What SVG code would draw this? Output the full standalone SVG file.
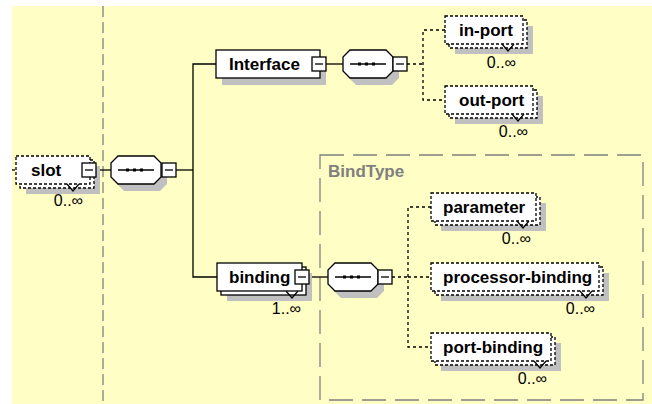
<svg xmlns="http://www.w3.org/2000/svg" width="652" height="404" viewBox="0 0 652 404">
  <style>
    .bg { fill: #FFFEC4; }
    .shadow { fill: #C0C0C0; }
    .box { fill: #FFFFFF; stroke: #000; stroke-width: 1.3; }
    .opt { stroke-dasharray: 3 2; }
    .btn { fill: #FFFFFF; stroke: #000; stroke-width: 1.3; }
    .mark { stroke: #000; stroke-width: 1.3; fill: none; }
    .wire { stroke: #000; stroke-width: 1.3; fill: none; }
    .dwire { stroke-dasharray: 3 3; }
    .vee { stroke: #000; stroke-width: 1.2; fill: none; }
    .name { font-family: "Liberation Sans", Arial, sans-serif; font-weight: bold; font-size: 17px; fill: #000; }
    .occ { font-family: "Liberation Sans", Arial, sans-serif; font-size: 16px; fill: #000; text-anchor: end; }
    .typename { font-family: "Liberation Sans", Arial, sans-serif; font-weight: bold; font-size: 17px; fill: #808080; }
    .guide { stroke: #808080; stroke-width: 1.3; fill: none; }
  </style>

  <defs>
    <!-- sequence compositor: octagon with a dotted bar -->
    <g id="seq-body">
      <polygon points="7,0 43,0 50,7 50,21 43,28 7,28 0,21 0,7"/>
    </g>
    <g id="seq-inner">
      <line x1="7" y1="14" x2="43" y2="14" class="mark"/>
      <rect x="15" y="12.5" width="3" height="3" fill="#000"/>
      <rect x="22" y="12.5" width="3" height="3" fill="#000"/>
      <rect x="29" y="12.5" width="3" height="3" fill="#000"/>
    </g>
    <g id="collapse">
      <rect x="0" y="0" width="14" height="14" class="btn"/>
      <line x1="3" y1="7" x2="11" y2="7" class="mark"/>
    </g>
  </defs>

  <!-- canvas -->
  <rect x="0" y="0" width="652" height="404" fill="#FFFFFF"/>
  <rect x="12" y="6" width="640" height="398" class="bg"/>

  <!-- root boundary and complex type frame -->
  <line x1="103" y1="6" x2="103" y2="404" class="guide" stroke-dasharray="11 5"/>
  <g id="bindtype-frame">
    <rect x="320" y="155" width="323" height="245" class="guide" stroke-dasharray="24 9"/>
    <text x="328" y="177" class="typename">BindType</text>
  </g>

  <!-- connectors -->
  <g id="connectors">
    <line x1="12" y1="170" x2="16" y2="170" class="wire dwire"/>
    <line x1="96" y1="170" x2="111" y2="170" class="wire"/>
    <line x1="176" y1="170" x2="193" y2="170" class="wire"/>
    <polyline points="216,64 193,64 193,277 217,277" class="wire"/>
    <line x1="326" y1="64" x2="343" y2="64" class="wire"/>
    <line x1="407" y1="64" x2="423" y2="64" class="wire dwire"/>
    <polyline points="445,30 423,30 423,100 445,100" class="wire dwire"/>
    <line x1="309" y1="277" x2="328" y2="277" class="wire"/>
    <line x1="392" y1="277" x2="408" y2="277" class="wire dwire"/>
    <polyline points="431,207 408,207 408,347 431,347" class="wire dwire"/>
    <line x1="408" y1="277" x2="431" y2="277" class="wire dwire"/>
  </g>

  <!-- slot (optional, repeating) -->
  <g id="slot">
    <rect x="26" y="166" width="74" height="28" class="shadow"/>
    <rect x="20" y="160" width="74" height="28" class="box opt"/>
    <rect x="16" y="156" width="74" height="28" class="box opt"/>
    <text x="31" y="176" class="name">slot</text>
    <use href="#collapse" x="82" y="163"/>
    <polyline points="67,184 73,191 79,184" class="vee"/>
    <text x="83" y="206" class="occ">0..∞</text>
  </g>

  <!-- slot sequence -->
  <g id="seq-slot">
    <use href="#seq-body" x="117" y="163" class="shadow"/>
    <use href="#seq-body" x="111" y="156" class="box"/>
    <use href="#seq-inner" x="111" y="156"/>
    <use href="#collapse" x="162" y="163"/>
  </g>

  <!-- Interface -->
  <g id="interface">
    <rect x="222" y="57" width="104" height="28" class="shadow"/>
    <rect x="216" y="50" width="104" height="28" class="box"/>
    <text x="229" y="70" class="name">Interface</text>
    <use href="#collapse" x="312" y="57"/>
  </g>

  <g id="seq-interface">
    <use href="#seq-body" x="349" y="57" class="shadow"/>
    <use href="#seq-body" x="343" y="50" class="box"/>
    <use href="#seq-inner" x="343" y="50"/>
    <use href="#collapse" x="393" y="57"/>
  </g>

  <g id="in-port">
    <rect x="455" y="26" width="78" height="28" class="shadow"/>
    <rect x="449" y="20" width="78" height="28" class="box opt"/>
    <rect x="445" y="16" width="78" height="28" class="box opt"/>
    <text x="459" y="36" class="name">in-port</text>
    <polyline points="502,44 508,51 514,44" class="vee"/>
    <text x="516" y="68" class="occ">0..∞</text>
  </g>

  <g id="out-port">
    <rect x="455" y="96" width="88" height="28" class="shadow"/>
    <rect x="449" y="90" width="88" height="28" class="box opt"/>
    <rect x="445" y="86" width="88" height="28" class="box opt"/>
    <text x="459" y="106" class="name">out-port</text>
    <polyline points="512,114 518,121 524,114" class="vee"/>
    <text x="528" y="137" class="occ">0..∞</text>
  </g>

  <!-- binding (required, repeating) -->
  <g id="binding">
    <rect x="227" y="273" width="85" height="28" class="shadow"/>
    <rect x="221" y="267" width="85" height="28" class="box"/>
    <rect x="217" y="263" width="85" height="28" class="box"/>
    <text x="229" y="283" class="name">binding</text>
    <use href="#collapse" x="295" y="270"/>
    <polyline points="286,291 292,298 298,291" class="vee"/>
    <text x="301" y="314" class="occ">1..∞</text>
  </g>

  <g id="seq-binding">
    <use href="#seq-body" x="334" y="270" class="shadow"/>
    <use href="#seq-body" x="328" y="263" class="box"/>
    <use href="#seq-inner" x="328" y="263"/>
    <use href="#collapse" x="378" y="270"/>
  </g>

  <g id="parameter">
    <rect x="441" y="203" width="105" height="28" class="shadow"/>
    <rect x="435" y="197" width="105" height="28" class="box opt"/>
    <rect x="431" y="193" width="105" height="28" class="box opt"/>
    <text x="443" y="213" class="name">parameter</text>
    <polyline points="517,221 523,228 529,221" class="vee"/>
    <text x="531" y="244" class="occ">0..∞</text>
  </g>

  <g id="processor-binding">
    <rect x="441" y="273" width="168" height="28" class="shadow"/>
    <rect x="435" y="267" width="168" height="28" class="box opt"/>
    <rect x="431" y="263" width="168" height="28" class="box opt"/>
    <text x="443" y="283" class="name">processor-binding</text>
    <polyline points="580,291 586,298 592,291" class="vee"/>
    <text x="595" y="314" class="occ">0..∞</text>
  </g>

  <g id="port-binding">
    <rect x="441" y="343" width="120" height="28" class="shadow"/>
    <rect x="435" y="337" width="120" height="28" class="box opt"/>
    <rect x="431" y="333" width="120" height="28" class="box opt"/>
    <text x="443" y="353" class="name">port-binding</text>
    <polyline points="534,361 540,368 546,361" class="vee"/>
    <text x="547" y="384" class="occ">0..∞</text>
  </g>
</svg>
